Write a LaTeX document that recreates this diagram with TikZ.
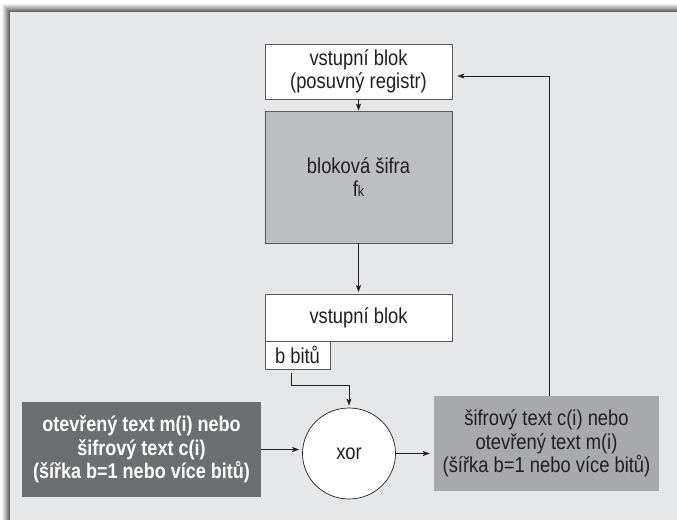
\documentclass[tikz,border=0pt]{standalone}
\usepackage{fontspec}
\setmainfont{Liberation Sans}[FakeStretch=0.85]
\usetikzlibrary{arrows.meta, positioning, shapes.geometric, calc}
\definecolor{inkgray}{RGB}{35,31,32}
\definecolor{panelgray}{RGB}{230,231,232}
\definecolor{ciphergray}{RGB}{188,190,192}
\definecolor{plaindark}{RGB}{109,110,113}
\definecolor{outgray}{RGB}{167,169,172}

\begin{document}
\begin{tikzpicture}[
    x=1pt, y=-1pt,
    font=\fontsize{21.6}{23.5}\selectfont,
    box/.style={draw=inkgray!75, line width=0.7pt, fill=white, text=inkgray, align=center, inner sep=0pt, minimum width=187pt},
    cipherbox/.style={box, fill=ciphergray},
    textbox/.style={align=center, inner sep=0pt, minimum height=95pt},
    arrow/.style={-{Stealth[length=7pt, width=5pt, inset=1.5pt]}, line width=0.8pt, draw=inkgray},
]
\useasboundingbox (0,0) rectangle (677,520);

% Panel with shadow on top and left edge
\foreach \d/\c in {8/6, 7/12, 6/20, 5/28, 4/36, 3/44, 2/52, 1/60}
  \fill[black!\c] (10-\d,12-\d) rectangle (677,520);
\fill[panelgray] (10,12) rectangle (677,520);

% Shift register and block cipher
\node[box, minimum height=55pt] (shiftreg) at (358.5,71.5) {vstupní blok\\(posuvný registr)};
\node[cipherbox, minimum height=132pt] (cipher) at (358.5,177) {bloková šifra\\f{\fontsize{15}{15}\selectfont k}};
\node[box, minimum height=47pt] (inblock) at (358.5,317.5) {vstupní blok};
\node[box, minimum width=65pt, minimum height=28pt] (bbits) at (297.5,355) {b bitů};

% Xor and the text streams
\node[draw=inkgray, line width=0.7pt, fill=white, ellipse, inner sep=0pt, minimum width=93pt, minimum height=91pt, text=inkgray] (xor) at (349,453.5) {xor};
\node[textbox, fill=plaindark, text=white, minimum width=239pt, font=\fontsize{21.2}{23.5}\selectfont\bfseries] (plain) at (141.5,449.5) {otevřený text m(i) nebo\\šifrový text c(i)\\(šířka b=1 nebo více bitů)};
\node[textbox, fill=outgray, text=inkgray, minimum width=225pt] (output) at (546.5,443.5) {šifrový text c(i) nebo\\otevřený text m(i)\\(šířka b=1 nebo více bitů)};

\draw[arrow] (shiftreg) -- (cipher);
\draw[arrow, shorten >=1.5pt] (cipher) -- (inblock);
\draw[arrow, shorten <=4pt, shorten >=2pt] ([xshift=-6.5pt]bbits.south) -- ++(0,16) -| (xor.north);
\draw[arrow, shorten >=3pt] (plain.east) -- (plain.east -| xor.west);
\draw[arrow, shorten >=4pt] (xor.east) -- (xor.east -| output.west);

% Feedback into the shift register
\draw[arrow, shorten >=5pt] ([xshift=2.5pt]output.north) |- ([yshift=-4.5pt]shiftreg.east);
\end{tikzpicture}
\end{document}
